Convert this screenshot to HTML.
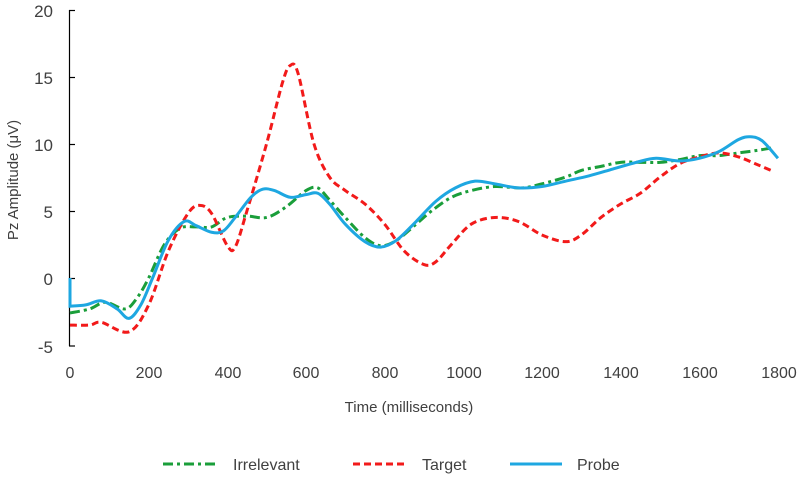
<!DOCTYPE html>
<html><head><meta charset="utf-8"><style>
body{margin:0;background:#fff}
svg{display:block;font-family:"Liberation Sans",sans-serif;fill:#404040}
</style></head><body>
<svg id="s" width="800" height="478" viewBox="0 0 800 478">
<line x1="69.5" y1="10" x2="69.5" y2="346" stroke="#000" stroke-width="1.2"/>
<g stroke="#000" stroke-width="1.2">
<line x1="69" y1="10.5" x2="75" y2="10.5"/><line x1="69" y1="77.5" x2="75" y2="77.5"/>
<line x1="69" y1="144.5" x2="75" y2="144.5"/><line x1="69" y1="211.5" x2="75" y2="211.5"/>
<line x1="69" y1="278.5" x2="75" y2="278.5"/><line x1="69" y1="346" x2="75" y2="346"/>
</g>
<g font-size="17" text-anchor="end">
<text x="53" y="17">20</text><text x="53" y="84">15</text><text x="53" y="151">10</text>
<text x="53" y="218">5</text><text x="53" y="285">0</text><text x="53" y="353">-5</text>
</g>
<g font-size="16" text-anchor="middle">
<text x="70" y="378">0</text><text x="149" y="378">200</text><text x="228" y="378">400</text>
<text x="306" y="378">600</text><text x="385" y="378">800</text><text x="464" y="378">1000</text>
<text x="542" y="378">1200</text><text x="621" y="378">1400</text><text x="700" y="378">1600</text>
<text x="779" y="378">1800</text>
<text x="409" y="412" font-size="15">Time (milliseconds)</text>
</g>
<text transform="translate(18,180) rotate(-90)" font-size="15" text-anchor="middle">Pz Amplitude (μV)</text>
<g id="curves" fill="none" stroke-width="3"></g>
<line x1="163" y1="464" x2="215" y2="464" stroke="#1a9e3a" stroke-width="3" stroke-dasharray="10,4,3,4"/>
<text x="233" y="470" font-size="16">Irrelevant</text>
<line x1="353" y1="464" x2="405" y2="464" stroke="#f21a1a" stroke-width="3" stroke-dasharray="7,4"/>
<text x="422" y="470" font-size="16">Target</text>
<line x1="510" y1="464" x2="562" y2="464" stroke="#1ea7e1" stroke-width="3"/>
<text x="577" y="470" font-size="16">Probe</text>
</svg>
<script>
function px(t){return 70+t*0.3933}function py(v){return 278-v*13.45}
function path(d){var p=d.map(function(a){return[px(a[0]),py(a[1])]});var s="M"+p[0][0]+","+p[0][1];
for(var i=0;i<p.length-1;i++){var p0=p[i-1]||p[i],p1=p[i],p2=p[i+1],p3=p[i+2]||p2;
s+=" C"+(p1[0]+(p2[0]-p0[0])/6)+","+(p1[1]+(p2[1]-p0[1])/6)+" "+(p2[0]-(p3[0]-p1[0])/6)+","+(p2[1]-(p3[1]-p1[1])/6)+" "+p2[0]+","+p2[1];}return s;}
var R=[[0,-3.5],[50,-3.5],[80,-3.3],[150,-4],[200,-2],[250,2],[300,4.8],[330,5.4],[360,4.8],[400,2.4],[420,2.3],[450,5],[500,10],[540,14.5],[560,15.8],[580,15.2],[620,10],[660,7.5],[700,6.5],[750,5.5],[800,4],[850,2],[900,1],[930,1.2],[970,2.5],[1020,4],[1080,4.5],[1140,4.2],[1200,3.2],[1260,2.7],[1300,3.2],[1350,4.5],[1400,5.5],[1450,6.3],[1500,7.5],[1550,8.5],[1600,9],[1650,9.3],[1700,9],[1750,8.4],[1790,7.9]];
var G=[[0,-2.6],[50,-2.3],[90,-1.8],[140,-2.3],[170,-1.5],[200,0],[240,2.5],[280,3.7],[320,3.8],[360,3.8],[400,4.5],[450,4.6],[500,4.5],[550,5.3],[600,6.5],[630,6.7],[660,5.8],[700,4.5],[750,3.0],[790,2.4],[830,2.8],[880,4],[920,5],[970,6],[1020,6.5],[1080,6.8],[1150,6.7],[1200,7],[1260,7.5],[1300,8],[1350,8.3],[1400,8.6],[1450,8.6],[1500,8.6],[1550,8.8],[1600,9.1],[1650,9.1],[1700,9.3],[1750,9.5],[1790,9.7]];
var B=[[0,-2.1],[40,-2],[80,-1.7],[120,-2.3],[150,-3],[180,-2],[210,0],[250,2.8],[290,4.2],[320,3.9],[360,3.4],[390,3.5],[420,4.5],[460,6],[490,6.6],[520,6.5],[560,6],[600,6.2],[630,6.3],[660,5.5],[700,4],[750,2.7],[790,2.3],[830,2.8],[880,4.2],[930,5.7],[980,6.7],[1030,7.2],[1080,7],[1140,6.7],[1200,6.8],[1260,7.2],[1320,7.6],[1380,8.1],[1440,8.6],[1490,8.9],[1550,8.7],[1600,8.9],[1650,9.4],[1700,10.3],[1730,10.5],[1760,10.2],[1800,8.9]];
var g=document.getElementById("curves");
g.innerHTML='<path d="'+path(G)+'" stroke="#1a9e3a" stroke-dasharray="10,4,3,4"/>'+
'<path d="'+path(R)+'" stroke="#f21a1a" stroke-dasharray="7,4"/>'+
'<path d="M70,278 '+path(B).replace("M","L")+'" stroke="#1ea7e1"/>';
</script>
</body></html>
